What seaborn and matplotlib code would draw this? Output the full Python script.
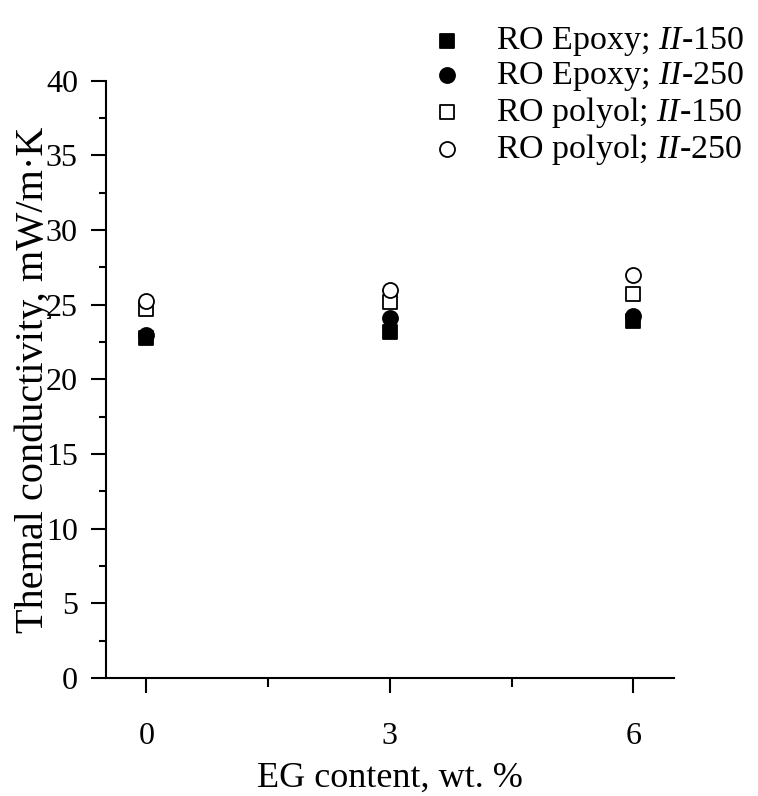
import matplotlib
matplotlib.use("Agg")
import matplotlib.pyplot as plt
import seaborn as sns
import pandas as pd
from matplotlib.ticker import MultipleLocator, FixedLocator

# ---- data ----
eg_content = [0, 3, 6]
epoxy_150 = [22.8, 23.15, 23.9]
epoxy_250 = [23.0, 24.1, 24.25]
polyol_150 = [24.7, 25.15, 25.7]
polyol_250 = [25.25, 26.0, 27.0]
series_labels = [
    "RO Epoxy; $\\mathit{II}$-150",
    "RO Epoxy; $\\mathit{II}$-250",
    "RO polyol; $\\mathit{II}$-150",
    "RO polyol; $\\mathit{II}$-250",
]
x_ticks = [0, 3, 6]
y_ticks = [0, 5, 10, 15, 20, 25, 30, 35, 40]

sns.set_style("ticks")
plt.rcParams["font.family"] = ["Liberation Serif", "DejaVu Serif"]
plt.rcParams["mathtext.fontset"] = "custom"
plt.rcParams["mathtext.rm"] = "Liberation Serif"
plt.rcParams["mathtext.it"] = "Liberation Serif:italic"
plt.rcParams["text.color"] = "black"
plt.rcParams["axes.labelcolor"] = "black"
plt.rcParams["xtick.color"] = "black"
plt.rcParams["ytick.color"] = "black"

fig = plt.figure(figsize=(7.58, 7.96), dpi=100)
ax = fig.add_axes([0.1394, 0.1482, 0.7498, 0.7504])

values = [epoxy_150, epoxy_250, polyol_150, polyol_250]
markers = ["s", "o", "s", "o"]
faces = ["black", "black", "white", "white"]
sizes = [88, 117, 88, 117]

for vals, lab, m, fc, s in zip(values, series_labels, markers, faces, sizes):
    df = pd.DataFrame({"eg": eg_content, "k": vals})
    sns.scatterplot(data=df, x="eg", y="k", marker=m, s=s, color="black",
                    linewidth=1.3, label=lab, ax=ax, zorder=3)
    coll = ax.collections[-1]
    coll.set_facecolor(fc)
    coll.set_edgecolor("black")
    coll.set_linewidth(1.3)

ax.set_xlim(-0.5, 6.5)
ax.set_ylim(0, 40)
ax.xaxis.set_major_locator(FixedLocator(x_ticks))
ax.xaxis.set_minor_locator(FixedLocator([1.5, 4.5]))
ax.yaxis.set_major_locator(FixedLocator(y_ticks))
ax.yaxis.set_minor_locator(MultipleLocator(2.5))

for side in ["top", "right"]:
    ax.spines[side].set_visible(False)
for side in ["left", "bottom"]:
    ax.spines[side].set_linewidth(1.5)
    ax.spines[side].set_color("black")

ax.tick_params(axis="both", which="major", direction="out", length=11, width=1.5,
               labelsize=23)
ax.tick_params(axis="y", which="major", pad=9)
ax.tick_params(axis="x", which="major", pad=21)
ax.tick_params(axis="y", which="minor", direction="out", length=5, width=1.5)
ax.tick_params(axis="x", which="minor", direction="out", length=6.5, width=1.5)

ax.set_xlabel("EG content, wt. %", fontsize=26)
ax.set_ylabel("Themal conductivity, mW/m·K", fontsize=29)
ax.xaxis.set_label_coords(0.5, -0.14)
ax.yaxis.set_label_coords(-0.095, 0.5)

ax.legend(loc="upper left", bbox_to_anchor=(0.569, 0.968), bbox_transform=fig.transFigure,
          frameon=False, fontsize=24.5, handlelength=0.95, handletextpad=0.95,
          borderpad=0, borderaxespad=0, labelspacing=0.05, markerscale=1.0)

fig.savefig("out.png", dpi=100)
